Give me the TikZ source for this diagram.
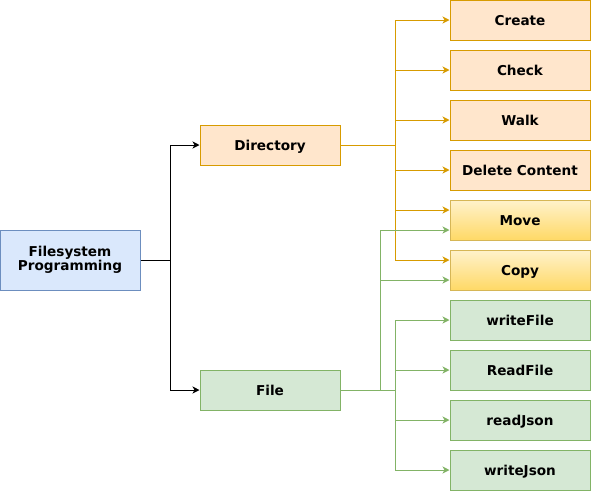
\documentclass[tikz,border=0pt]{standalone}
\usepackage{fontspec}
\setmainfont{DejaVu Sans}
\usetikzlibrary{arrows.meta}
\definecolor{ofill}{HTML}{FFE6CC}
\definecolor{oline}{HTML}{D79B00}
\definecolor{gfill}{HTML}{D5E8D4}
\definecolor{gline}{HTML}{82B366}
\definecolor{bfill}{HTML}{DAE8FC}
\definecolor{bline}{HTML}{6C8EBF}
\definecolor{ytop}{HTML}{FFF2CC}
\definecolor{ybot}{HTML}{FFD966}
\definecolor{yline}{HTML}{D6B656}
\begin{document}
\begin{tikzpicture}[x=1pt,y=-1pt,
  box/.style={rectangle, minimum width=140pt, minimum height=40pt, inner sep=0pt,
    line width=1pt, font=\fontsize{13.6}{15}\selectfont\bfseries, align=center,
    text height=10pt, text depth=0pt},
  obox/.style={box, draw=oline, fill=ofill},
  gbox/.style={box, draw=gline, fill=gfill},
  bbox/.style={box, draw=bline, fill=bfill, minimum height=60pt, text height=, text depth=},
  ybox/.style={box, draw=yline, top color=ytop, bottom color=ybot},
  edge/.style={line width=1pt, -{Stealth[length=7pt,width=7pt,inset=2pt]}},
  kedge/.style={edge, draw=black},
  oedge/.style={edge, draw=oline},
  gedge/.style={edge, draw=gline}]
\useasboundingbox (0,0) rectangle (591,491);
\node[bbox] (fs) at (70,260) {Filesystem\\[-1pt]Programming};
\node[obox] (dir) at (270,145) {Directory};
\node[gbox] (file) at (270,390) {File};
\node[obox] (create) at (520,20) {Create};
\node[obox] (check) at (520,70) {Check};
\node[obox] (walk) at (520,120) {Walk};
\node[obox] (del) at (520,170) {Delete Content};
\node[ybox] (move) at (520,220) {Move};
\node[ybox] (copy) at (520,270) {Copy};
\node[gbox] (wf) at (520,320) {writeFile};
\node[gbox] (rf) at (520,370) {ReadFile};
\node[gbox] (rj) at (520,420) {readJson};
\node[gbox] (wj) at (520,470) {writeJson};
\coordinate (kj) at (170,260);
\coordinate (dj) at (395,145);
\coordinate (fj) at (395,390);
\coordinate (fk) at (380,390);
\draw[kedge] (fs.east) -- (kj) |- (dir.west);
\draw[kedge] (kj) |- (file.west);
\draw[oedge] (dir.east) -- (dj) |- (create.west);
\draw[oedge] (dj) |- (check.west);
\draw[oedge] (dj) |- (walk.west);
\draw[oedge] (dj) |- (del.west);
\draw[oedge] (dj) |- ([yshift=10pt]move.west);
\draw[oedge] (dj) |- ([yshift=10pt]copy.west);
\draw[gedge] (file.east) -- (fj) |- (wf.west);
\draw[gedge] (fj) |- (rf.west);
\draw[gedge] (fj) |- (rj.west);
\draw[gedge] (fj) |- (wj.west);
\draw[gedge] (fk) |- ([yshift=-10pt]move.west);
\draw[gedge] (fk) |- ([yshift=-10pt]copy.west);
\end{tikzpicture}
\end{document}
